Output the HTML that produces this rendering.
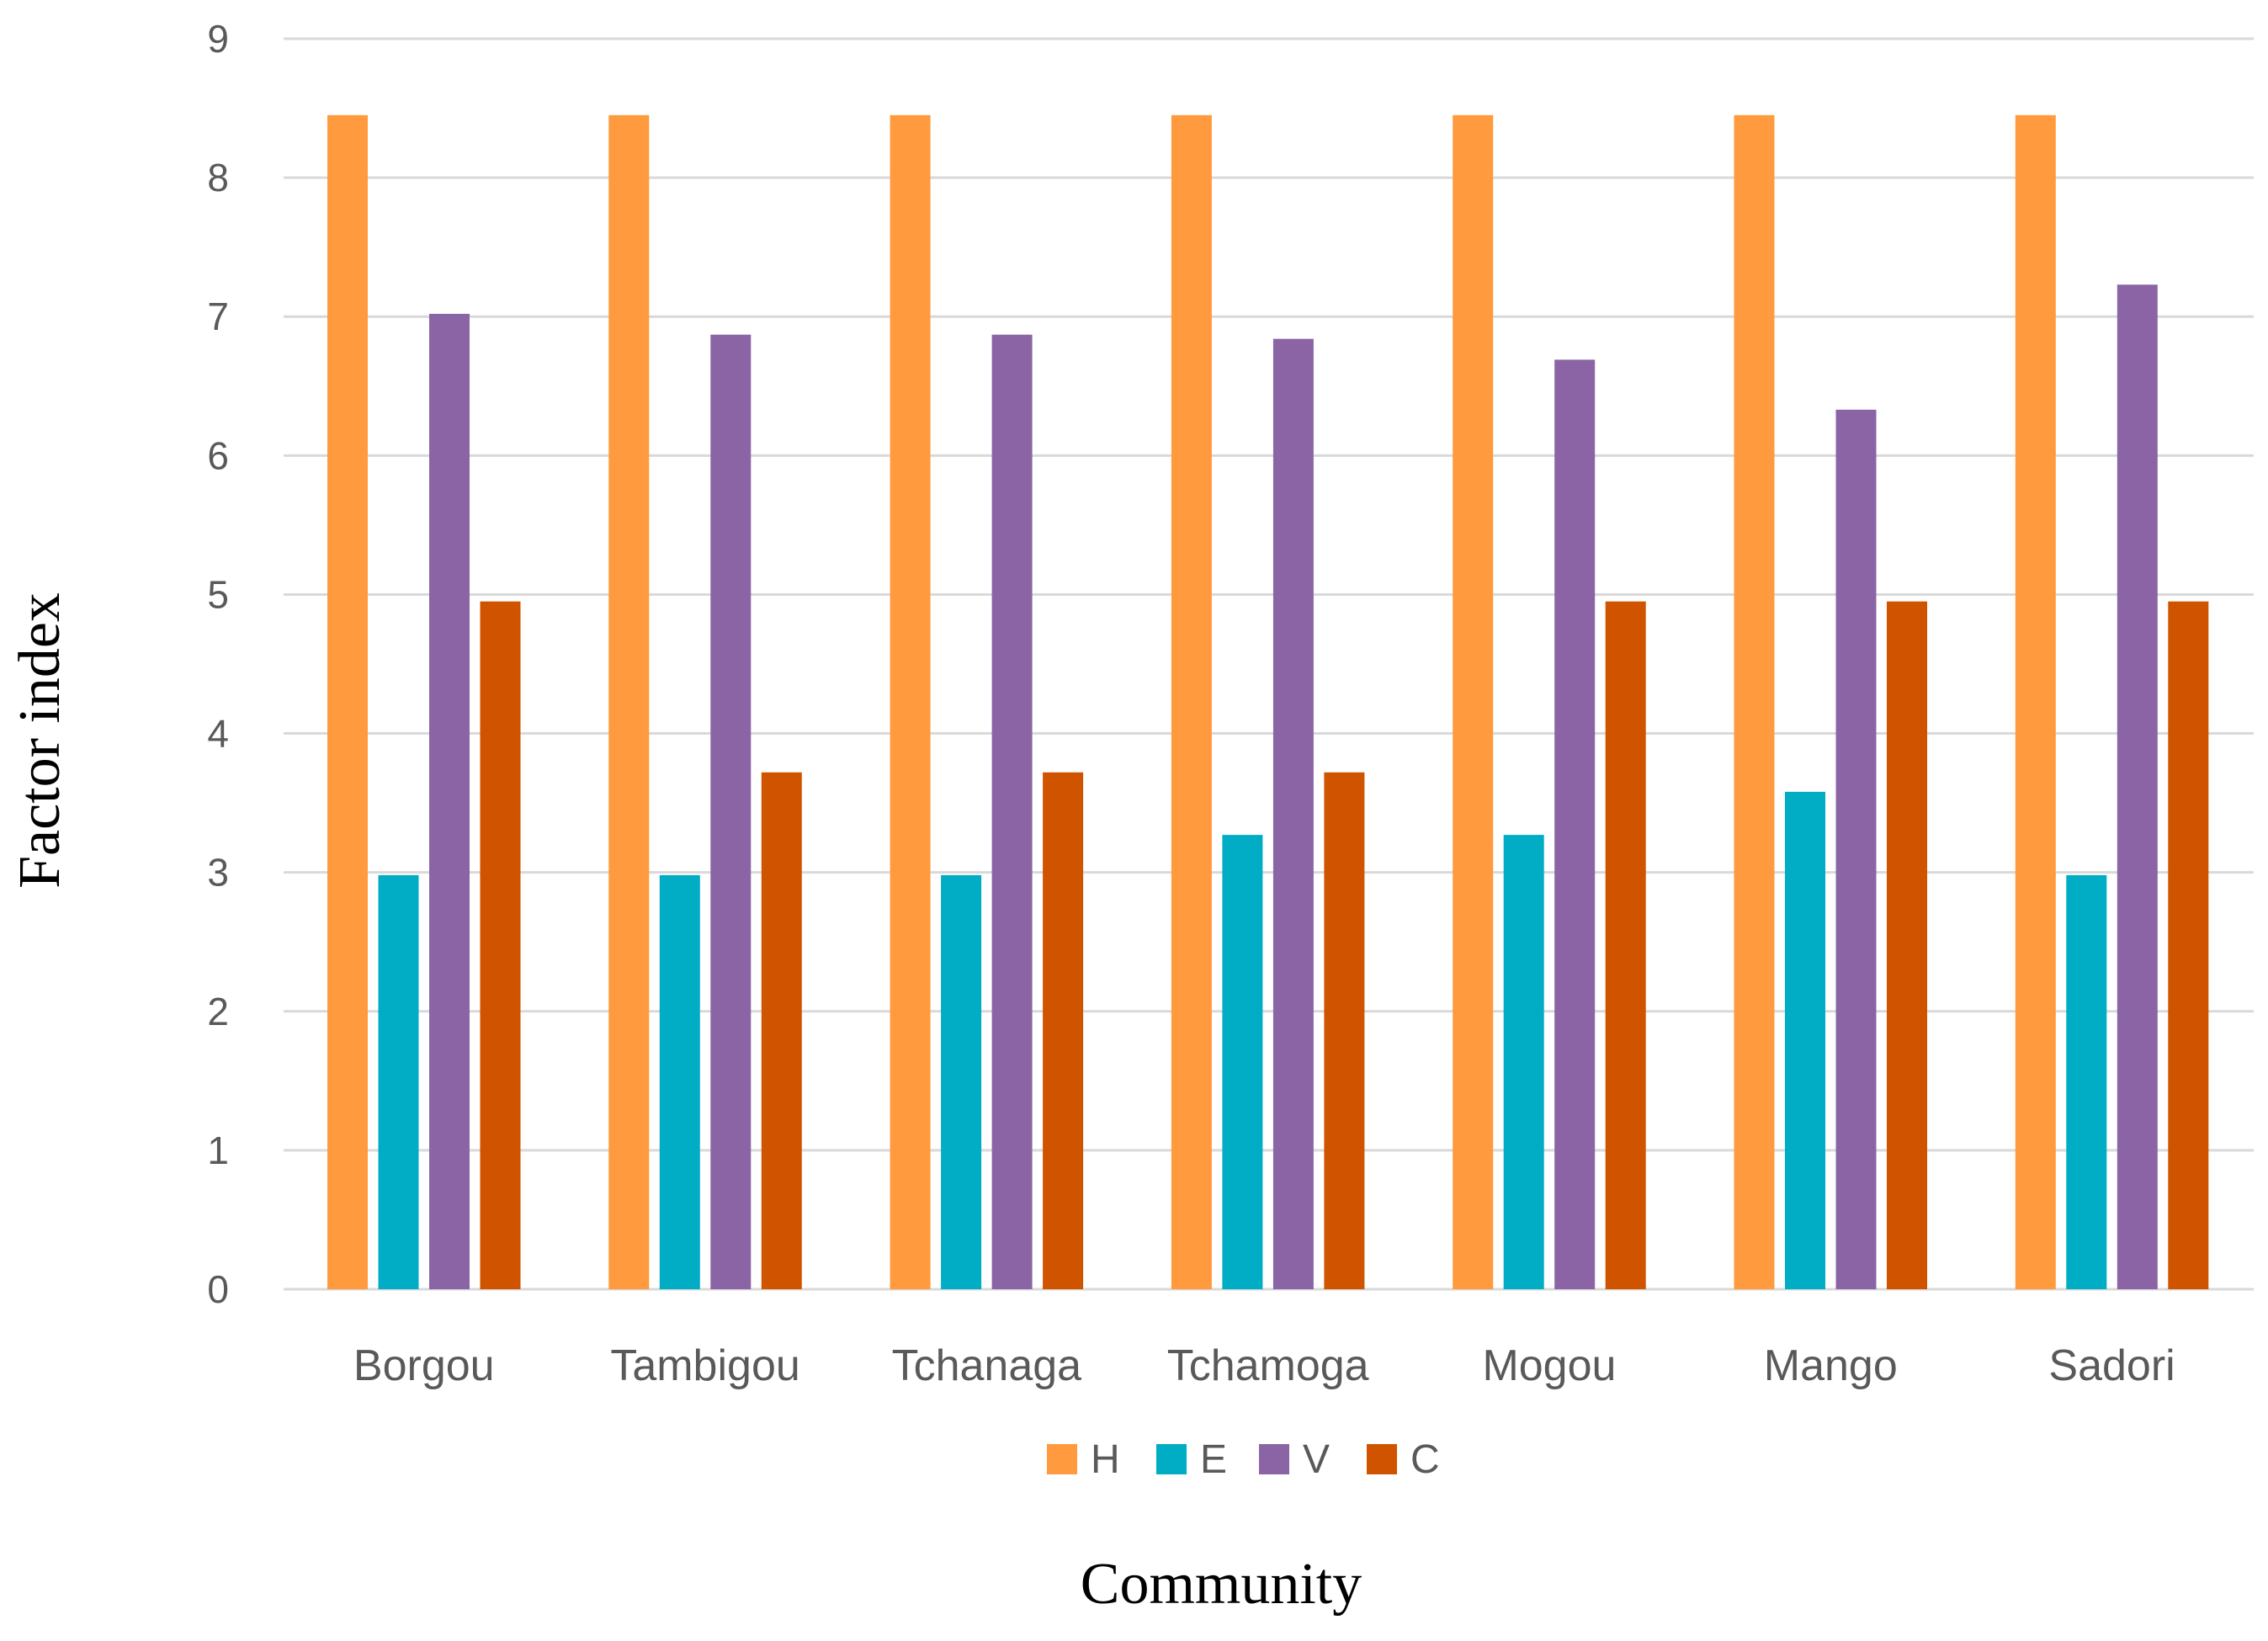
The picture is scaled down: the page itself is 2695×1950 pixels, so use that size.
<!DOCTYPE html>
<html><head><meta charset="utf-8"><style>
html,body{margin:0;padding:0;background:#fff;}
svg{display:block;}
</style></head><body>
<svg id="chart" width="2695" height="1950" viewBox="0 0 2695 1950" xmlns="http://www.w3.org/2000/svg">
<g id="grid"></g>
<g id="yticks"></g>
<g id="bars"></g>
<g id="xlabels"></g>
<g id="legend"></g>
<text x="1451" y="1905" text-anchor="middle" font-family="Liberation Serif, serif" font-size="70" fill="#000">Community</text>
<text transform="translate(70,880) rotate(-90)" text-anchor="middle" font-family="Liberation Serif, serif" font-size="70" fill="#000">Factor index</text>
</svg>
<script>
const categories = ["Borgou","Tambigou","Tchanaga","Tchamoga","Mogou","Mango","Sadori"];
const seriesNames = ["H","E","V","C"];
const valuesH = [8.45,8.45,8.45,8.45,8.45,8.45,8.45];
const valuesE = [2.98,2.98,2.98,3.27,3.27,3.58,2.98];
const valuesV = [7.02,6.87,6.87,6.84,6.69,6.33,7.23];
const valuesC = [4.95,3.72,3.72,3.72,4.95,4.95,4.95];
const yTicks = [0,1,2,3,4,5,6,7,8,9];

const colors = ["#ff9a3e","#00adc4","#8b64a6","#d05400"];
const series = [valuesH,valuesE,valuesV,valuesC];
const NS = "http://www.w3.org/2000/svg";
const plotL = 337, plotR = 2678, y0 = 1532, y9 = 46;
const yScale = v => y0 - (y0 - y9) * v / 9;
const groupW = 334.3;
const groupStart = 337;
const xGroup = i => groupStart + i * groupW;
const barW = 48, barStep = 60.5, barOff = 52;

function mk(tag, attrs, parent){ const e = document.createElementNS(NS, tag); for (const k in attrs) e.setAttribute(k, attrs[k]); parent.appendChild(e); return e; }

const grid = document.getElementById('grid'), yt = document.getElementById('yticks');
yTicks.forEach(t => {
  const l = mk('line', {x1: plotL, x2: plotR, y1: yScale(t), y2: yScale(t), stroke: '#d9d9d9', 'stroke-width': 3}, grid);
  
  
  const tx = mk('text', {x: 272, y: yScale(t) + 16, 'text-anchor': 'end', 'font-family': 'Liberation Sans, sans-serif', 'font-size': 46, fill: '#595959'}, yt);
  tx.textContent = t;
  
  
});

const bars = document.getElementById('bars'), xl = document.getElementById('xlabels');
categories.forEach((c, i) => {
  series.forEach((s, j) => {
    const x = xGroup(i) + barOff + j * barStep;
    const r = mk('rect', {x: x, y: yScale(s[i]), width: barW, height: y0 - yScale(s[i]), fill: colors[j]}, bars);
    
    
  });
  const tx = mk('text', {x: xGroup(i) + barOff + 1.5 * barStep + barW / 2, y: 1640, 'text-anchor': 'middle', 'font-family': 'Liberation Sans, sans-serif', 'font-size': 52, fill: '#595959'}, xl);
  tx.textContent = c;
  
  
});

const lg = document.getElementById('legend');
const legX = [1244, 1374, 1496, 1624];
seriesNames.forEach((n, j) => {
  const g = mk('g', {}, lg);
  
  
  mk('rect', {x: legX[j], y: 1716, width: 36, height: 36, fill: colors[j]}, g);
  const t = mk('text', {x: legX[j] + 52, y: 1750, 'font-family': 'Liberation Sans, sans-serif', 'font-size': 48, fill: '#595959'}, g);
  t.textContent = n;
});
</script>
</body></html>
